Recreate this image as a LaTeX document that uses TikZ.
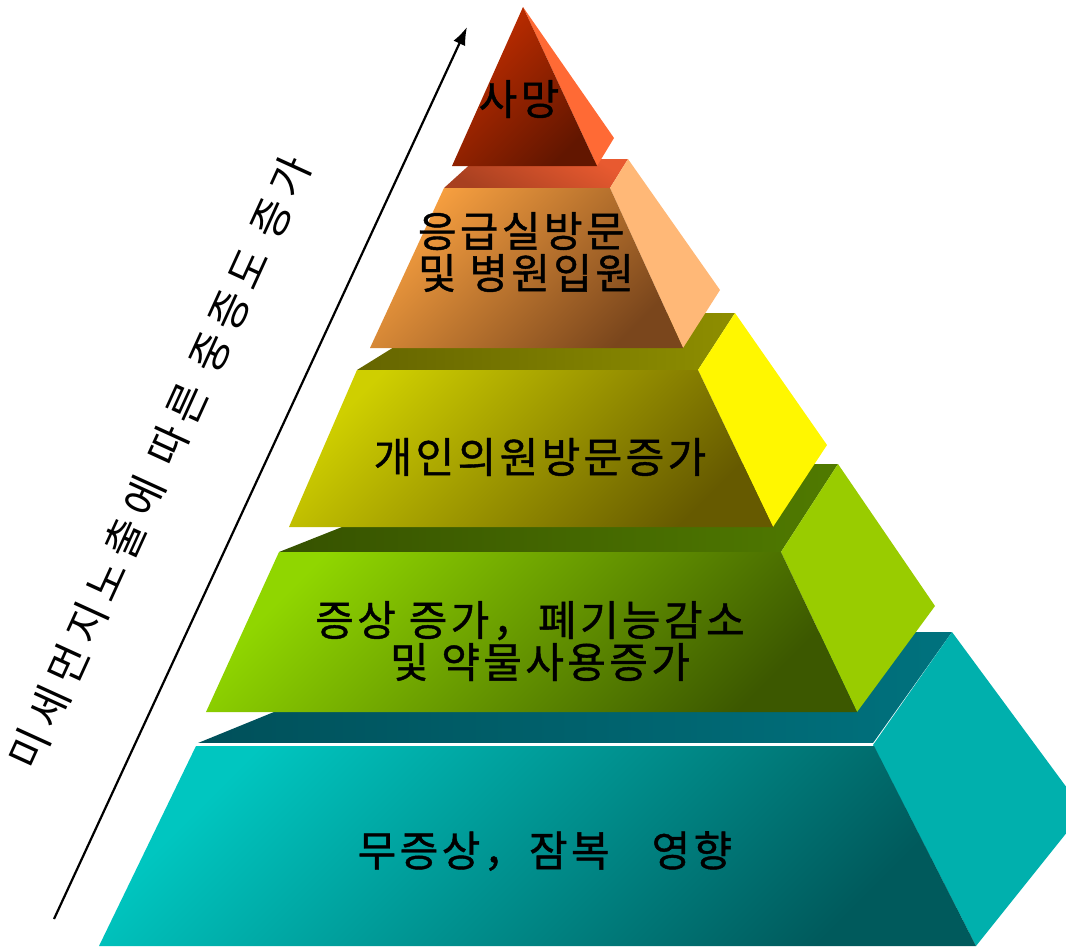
\documentclass[tikz,border=0pt]{standalone}
\usepackage{fontspec}
\newfontfamily\kr[LetterSpace=8,FakeBold=1]{Noto Sans CJK KR}
\newfontfamily\kraxis[LetterSpace=18]{Noto Sans CJK KR}
\usetikzlibrary{arrows.meta}
\definecolor{redA}{HTML}{C42E00}
\definecolor{redB}{HTML}{621600}
\definecolor{redS}{HTML}{FF6A35}
\definecolor{orTopA}{HTML}{A84020}
\definecolor{orTopB}{HTML}{E85A30}
\definecolor{orA}{HTML}{F8A040}
\definecolor{orB}{HTML}{7A461C}
\definecolor{orS}{HTML}{FFB877}
\definecolor{olTopA}{HTML}{656500}
\definecolor{olTopB}{HTML}{8E8E00}
\definecolor{olA}{HTML}{CFCF00}
\definecolor{olB}{HTML}{665A00}
\definecolor{olS}{HTML}{FFF700}
\definecolor{grTopA}{HTML}{365200}
\definecolor{grTopB}{HTML}{507A00}
\definecolor{grA}{HTML}{90D600}
\definecolor{grB}{HTML}{3C5800}
\definecolor{grS}{HTML}{99CC00}
\definecolor{tlTopA}{HTML}{00505A}
\definecolor{tlTopB}{HTML}{00727E}
\definecolor{tlA}{HTML}{00C6C0}
\definecolor{tlB}{HTML}{005A5C}
\definecolor{tlS}{HTML}{00B0AD}
\tikzset{
  lbl/.style={font=\kr\fontsize{42}{42}\selectfont, text=black, inner sep=0pt},
  axislbl/.style={font=\kraxis\fontsize{42}{42}\selectfont, text=black, inner sep=0pt, rotate=65.5},
  diag/.style={shading angle=45}
}
\begin{document}
\begin{tikzpicture}[x=1pt,y=-1pt]
\useasboundingbox (0,0) rectangle (1066,946);
\begin{scope}
\clip (0,0) rectangle (1066,946);
% ---- level 5 (teal) ----
\shade[left color=tlTopA, right color=tlTopB] (198,743) -- (873,743) -- (952,632) -- (470,632) -- cycle;
\fill[tlS] (873,745) -- (952,632) -- (1084,811) -- (976,946) -- cycle;
\shade[top color=tlA, bottom color=tlB, diag] (196,746) -- (874,746) -- (976,946) -- (99,946) -- cycle;
\draw[white, line width=2.5pt] (198,744) -- (873,744);
% ---- level 4 (green) ----
\shade[left color=grTopA, right color=grTopB] (279,552) -- (781,552) -- (838,464) -- (501,464) -- cycle;
\fill[grS] (781,552) -- (838,464) -- (935,606) -- (857,712) -- cycle;
\shade[top color=grA, bottom color=grB, diag] (279,552) -- (781,552) -- (857,712) -- (206,712) -- cycle;
% ---- level 3 (olive / yellow) ----
\shade[left color=olTopA, right color=olTopB] (357,370) -- (698,370) -- (735,313) -- (449,313) -- cycle;
\fill[olS] (698,370) -- (735,313) -- (827,445) -- (773,527) -- cycle;
\shade[top color=olA, bottom color=olB, diag] (357,370) -- (698,370) -- (773,527) -- (289,527) -- cycle;
% ---- level 2 (orange) ----
\shade[bottom color=orTopA, top color=orTopB, shading angle=-30] (444,188) -- (610,188) -- (628,159) -- (476,159) -- cycle;
\fill[orS] (610,188) -- (628,159) -- (720,290) -- (683,348) -- cycle;
\shade[top color=orA, bottom color=orB, diag] (444,188) -- (610,188) -- (683,348) -- (370,348) -- cycle;
% ---- level 1 (red) ----
\fill[redS] (523,7) -- (614,138) -- (597,166) -- cycle;
\shade[top color=redA, bottom color=redB, diag] (523,7) -- (597,166) -- (452,166) -- cycle;
\end{scope}
% ---- labels ----
\node[lbl, align=center] (death) at (519,99) {사망};
\node[lbl, align=left] (er) at (526,252) {응급실방문\\및 병원입원};
\node[lbl, align=center] (clinic) at (540,457) {개인의원방문증가};
\node[lbl, align=center] (symp) at (530,641) {증상 증가，폐기능감소\\\hspace*{20pt}및 약물사용증가};
\node[lbl, align=center] (latent) at (545,851) {무증상，잠복\hspace{42pt}영향};
% ---- axis arrow and label ----
\coordinate (arrowfoot) at (54,919);
\coordinate (arrowtip) at (467,27);
\draw[line width=2.2pt, -{Latex[length=18pt,width=13pt]}] (arrowfoot) -- (arrowtip);
\node[axislbl] (axis) at (160,462) {미세먼지노출에 따른 중증도 증가};
\end{tikzpicture}
\end{document}
